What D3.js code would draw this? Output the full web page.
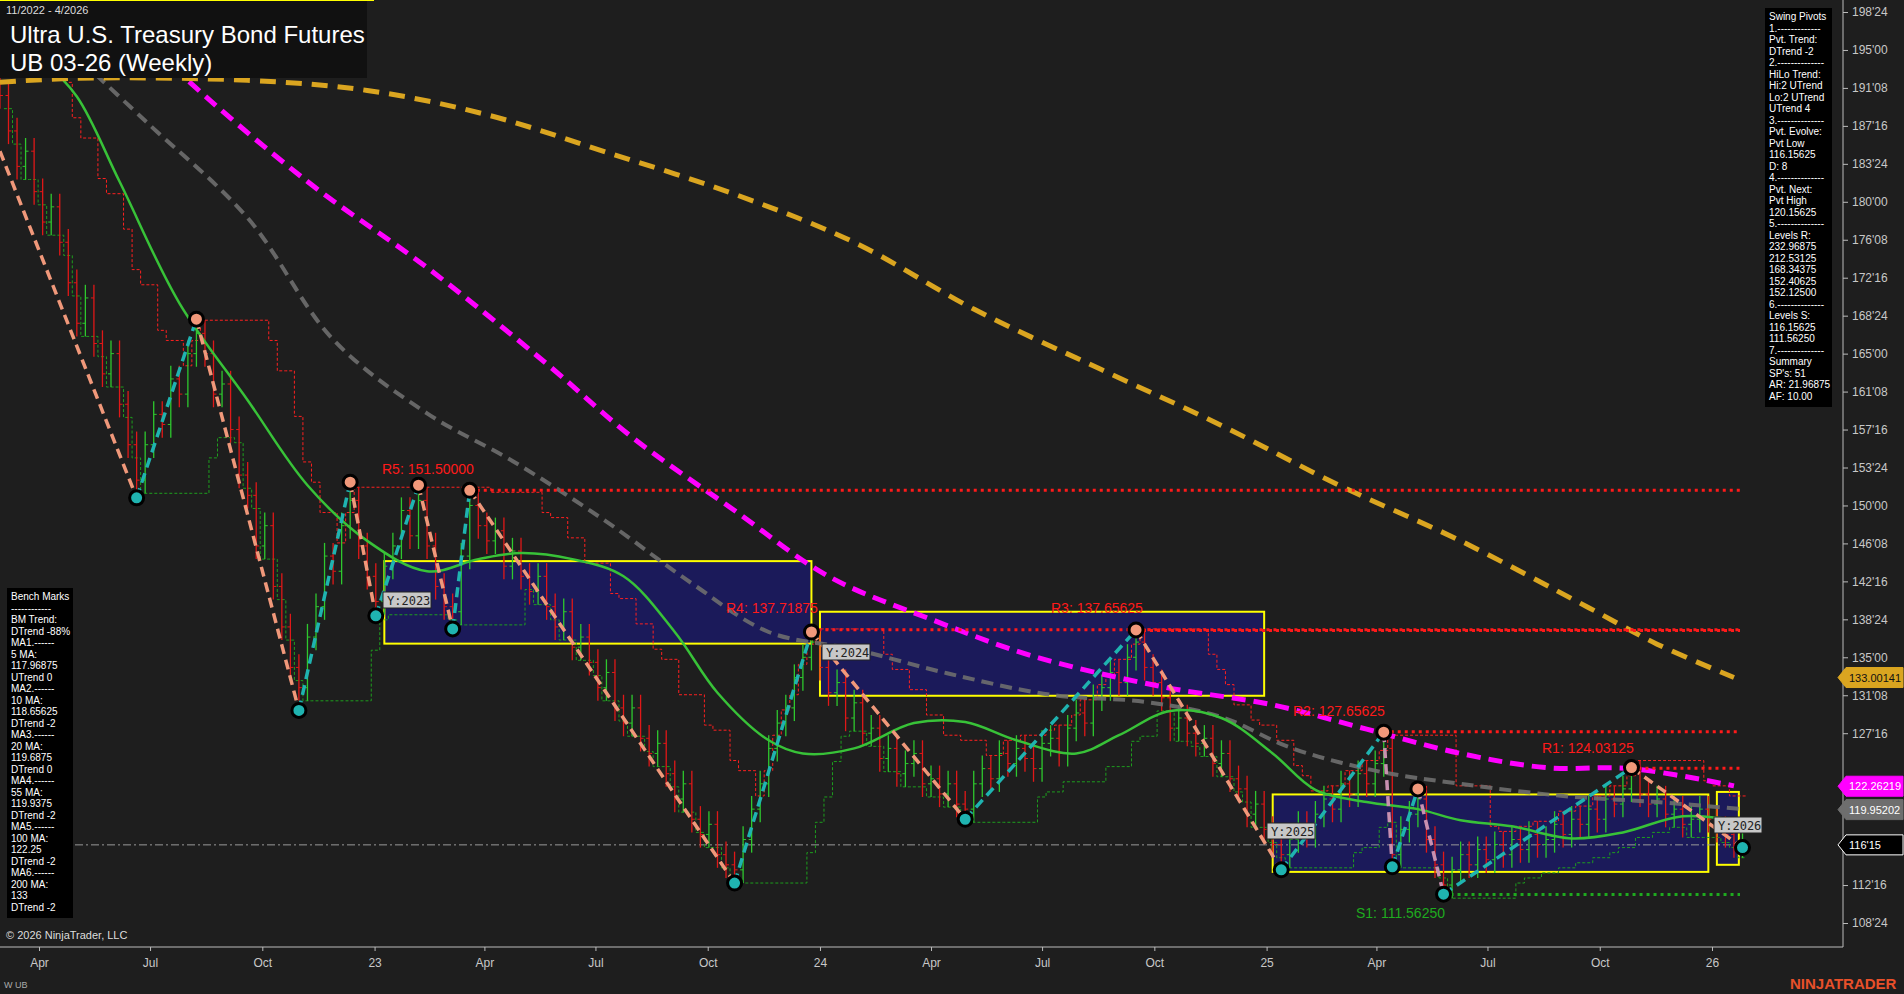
<!DOCTYPE html>
<html><head><meta charset="utf-8">
<script src="https://cdn.jsdelivr.net/npm/d3@7"></script>
<style>
body{margin:0;background:#1e1e1e;overflow:hidden}
svg{display:block;font-family:Arial,"Liberation Sans",sans-serif}
</style></head><body>
<svg id="chart" width="1904" height="994"></svg>
<script>
// weekly closes, first week 2022-02-28
const closes = [190.5,187,183.5,185,181,178,179.5,176,172,168,170.5,166,163,165,160,156,152.5,
156,159,158,162.5,161,165,167,
165,161,162,157.5,153,151,146,148,142,138,134,132,
137,140,145,143.5,148,150.5,146,143,140.5,144,146,149.5,147,150.5,146,142,140,139.5,145,150,
148,146.5,147.5,144,145.5,143,141.5,143,140,138,139.5,136,137,134.5,132,133.5,130,128.5,130,127,125.5,126.5,123.5,121,122.5,119,117.5,118.5,115.5,114.5,114,
117,120,122.5,126,128.5,130,133,135,136.5,
134,131.5,132.5,129,130.5,127.5,128,125,126,123.5,124.5,125.5,122.5,123,121.5,122.5,120.5,120,
122.5,124,123,125.5,124.5,126,125,124,126.5,127,125.5,128,129.5,128.5,131,132,133.5,132.5,135,136.5,
134,132.5,131,128,129,127.5,126.5,127,124.5,125.5,123,122,119.5,120.5,118,116.5,115.5,
117,118.5,117.5,119.5,121,120,122.5,121.5,123.5,122.5,124.5,126,
115.5,118,119.5,121,117,114.5,112.5,
114,115.5,114.5,116,115,116.5,115.5,117,116,117.5,116.5,117,118.5,117.5,119,118.5,120,119,121,120.5,122,123.5,
121.5,120.5,121,119.5,120,118.5,119,120,119,118,117.5,116.5,116.5];

// swing pivots: week index, price, type
const pivotIdx = [16,23,35,41,44,49,53,55,86,95,113,133,150,162,163,166,169,191,204];
const pivotPx  = [150.75,168.4,129.75,152.3,139.1,152,137.8,151.5,112.7,137.5,119,137.7,114,127.6,114.3,122,111.6,124.1,116.2];
const pivotHi  = [0,1,0,1,0,1,0,1,0,1,0,1,0,1,0,1,0,1,0];

// moving averages: [week index, price]
const ma20  = [[5,194],[9,190.4],[14,182],[21,170],[29,160.4],[36,152],[43,146.5],[50,143.5],[56,144.7],[61,145.3],[67,144.7],[73,143],[79,137.5],[84,131.5],[90,126.8],[94,125.5],[100,126],[107,128.5],[113,128.6],[119,126.8],[126,125.5],[131,127.3],[137,129.7],[143,129],[149,125.5],[154,121.9],[160,120.7],[166,120],[171,118.9],[177,118.3],[184,117.1],[190,117.7],[197,119.3],[204,118.8]];
const ma55  = [[8,195.1],[17,188],[29,178.4],[39,166.4],[50,159.1],[60,154.4],[71,148.4],[81,142.3],[90,137.5],[100,135.8],[111,133.4],[123,131.3],[134,130.6],[143,129.1],[151,126.1],[161,123.8],[171,122.5],[183,121.3],[194,120.7],[204,120]];
const ma100 = [[13,199.5],[21,192.75],[36,182],[50,173.5],[64,164],[74,156.75],[86,149.5],[97,143],[109,138.75],[121,135.1],[136,132.1],[149,130.3],[160,127.9],[171,125.5],[181,124.1],[191,124],[203,122.3]];
const ma200 = [[0,191.8],[9,192.2],[29,192],[43,191],[57,188.6],[71,184.9],[86,180.75],[100,176],[114,169.4],[129,163.4],[143,157.9],[157,151.9],[171,146.5],[186,139.9],[194,136.3],[203,133]];

// levels
const levelNames = ["R5: 151.50000","R4: 137.71875","R3: 137.65625","R2: 127.65625","R1: 124.03125","S1: 111.56250"];
const levelPx    = [151.5,137.71875,137.65625,127.65625,124.03125,111.5625];
const levelFrom  = [55,95,133,162,191,169];

// yearly range boxes
const yearNames = ["Y:2023","Y:2024","Y:2025","Y:2026"];
const yearFrom  = [45,96,149,201];
const yearTo    = [95,148,200,203.5];
const yearHi    = [144.5,139.5,121.45,121.7];
const yearLo    = [136.35,131.2,113.8,114.5];

const lastPrice = 116.46875;

const swingLines = ["Swing Pivots","1.-------------","Pvt. Trend:","DTrend -2","2.--------------","HiLo Trend:","Hi:2 UTrend","Lo:2 UTrend","UTrend 4","3.--------------","Pvt. Evolve:","Pvt Low","116.15625","D: 8","4.--------------","Pvt. Next:","Pvt High","120.15625","5.--------------","Levels R:","232.96875","212.53125","168.34375","152.40625","152.12500","6.--------------","Levels S:","116.15625","111.56250","7.--------------","Summary","SP's: 51","AR: 21.96875","AF: 10.00"];
const benchLines = ["Bench Marks","------------","BM Trend:","DTrend -88%","MA1.------","5 MA:","117.96875","UTrend 0","MA2.------","10 MA:","118.65625","DTrend -2","MA3.------","20 MA:","119.6875","DTrend 0","MA4.------","55 MA:","119.9375","DTrend -2","MA5.------","100 MA:","122.25","DTrend -2","MA6.------","200 MA:","133","DTrend -2"];

const svg = d3.select("#chart");
const start = new Date(2022,1,28);
const dateOf = i => d3.timeDay.offset(start, Math.round(i*7));
const x = d3.scaleTime().domain([new Date(2022,3,1), new Date(2026,0,1)]).range([39,1712]);
const xi = i => x(dateOf(i));
const y = d3.scaleLinear().domain([108.75,198.75]).range([923,12]);

const plot = svg.append("g");
plot.append("rect").attr("x",0).attr("y",0).attr("width",1843).attr("height",947).attr("fill","#1e1e1e");

// year boxes
yearNames.forEach((n,k)=>{
  plot.append("rect").attr("x",xi(yearFrom[k])).attr("y",y(yearHi[k]))
    .attr("width",xi(yearTo[k])-xi(yearFrom[k])).attr("height",y(yearLo[k])-y(yearHi[k]))
    .attr("fill","#1b1a5a").attr("stroke","#ffff00").attr("stroke-width",2);
});

// last price dash-dot line
plot.append("line").attr("x1",75).attr("x2",1745).attr("y1",y(lastPrice)).attr("y2",y(lastPrice))
  .attr("stroke","#9a9a9a").attr("stroke-width",1).attr("stroke-dasharray","8,3,2,3");

// bars
const bars = closes.map((c,i)=>{
  const o = i? closes[i-1] : c+1;
  return {i, o, c, h:Math.max(o,c)+1.3, l:Math.min(o,c)-1.3};
});
// trailing stops (step lines) from recent highs / lows
const stop = bars.map((b,i)=>({i, v:d3.max(bars.slice(Math.max(0,i-6),i+1),d=>d.h)}));
plot.append("path").datum(stop).attr("fill","none").attr("stroke","#ff2020").attr("stroke-width",1)
  .attr("stroke-dasharray","3,2")
  .attr("d",d3.line().curve(d3.curveStepAfter).x(d=>xi(d.i)+4).y(d=>y(d.v)));
const lowStop = bars.map((b,i)=>({i, v:d3.min(bars.slice(Math.max(0,i-6),i+1),d=>d.l)}));
plot.append("path").datum(lowStop).attr("fill","none").attr("stroke","#1e9e1e").attr("stroke-width",1)
  .attr("stroke-dasharray","3,2")
  .attr("d",d3.line().curve(d3.curveStepAfter).x(d=>xi(d.i)+4).y(d=>y(d.v)));

const bg = plot.append("g");
bars.forEach(b=>{
  const col = b.c>=b.o ? "#2ec82e" : "#e01818";
  const cx = xi(b.i);
  bg.append("line").attr("x1",cx).attr("x2",cx).attr("y1",y(b.h)).attr("y2",y(b.l)).attr("stroke",col).attr("stroke-width",1.3);
  bg.append("line").attr("x1",cx-3).attr("x2",cx).attr("y1",y(b.o)).attr("y2",y(b.o)).attr("stroke",col);
  bg.append("line").attr("x1",cx).attr("x2",cx+3).attr("y1",y(b.c)).attr("y2",y(b.c)).attr("stroke",col);
});

// moving averages
const maLine = d3.line().curve(d3.curveCatmullRom).x(d=>xi(d[0])).y(d=>y(d[1]));
plot.append("path").datum(ma55).attr("d",maLine).attr("fill","none").attr("stroke","#6e6e6e").attr("stroke-width",4).attr("stroke-dasharray","12,7").attr("opacity",0.9);
plot.append("path").datum(ma20).attr("d",maLine).attr("fill","none").attr("stroke","#38c238").attr("stroke-width",2.5);
plot.append("path").datum(ma100).attr("d",maLine).attr("fill","none").attr("stroke","#ff00ff").attr("stroke-width",5).attr("stroke-dasharray","14,8");
plot.append("path").datum(ma200).attr("d",maLine).attr("fill","none").attr("stroke","#daa520").attr("stroke-width",5).attr("stroke-dasharray","16,10");

// levels
levelPx.forEach((p,k)=>{
  const sup = levelNames[k][0]==="S";
  const col = sup ? "#1faa1f" : "#ff1a1a";
  plot.append("line").attr("x1",xi(levelFrom[k])).attr("x2",1740).attr("y1",y(p)).attr("y2",y(p))
    .attr("stroke",col).attr("stroke-width",3).attr("stroke-dasharray","3,4");
});
const labelAt = [[382,474],[726,613],[1051,613],[1293,716],[1542,753],[1356,918]];
levelNames.forEach((n,k)=>{
  plot.append("text").attr("x",labelAt[k][0]).attr("y",labelAt[k][1]).text(n)
    .attr("fill", n[0]==="S" ? "#1faa1f" : "#ff1a1a").attr("font-size",14);
});

// swing lines
const startPt = {i:0, p:185};
const pts = [startPt].concat(pivotIdx.map((d,k)=>({i:d,p:pivotPx[k],hi:pivotHi[k]})));
for(let k=1;k<pts.length;k++){
  const a=pts[k-1], b=pts[k];
  const col = b.p>a.p ? "#1fb3b0" : (b.i>=160 && b.i<=170 ? "#c890b0" : "#f0987a");
  plot.append("line").attr("x1",xi(a.i)).attr("y1",y(a.p)).attr("x2",xi(b.i)).attr("y2",y(b.p))
    .attr("stroke",col).attr("stroke-width",3.5).attr("stroke-dasharray","10,6");
}
pts.slice(1).forEach(d=>{
  plot.append("circle").attr("cx",xi(d.i)).attr("cy",y(d.p)).attr("r",7)
    .attr("fill",d.hi?"#f0987a":"#1fb3b0").attr("stroke","#000").attr("stroke-width",3);
});

// year tags
const tagPos = [[383,601],[822,653],[1267,832],[1714,826]];
yearNames.forEach((n,k)=>{
  const g = plot.append("g").attr("transform",`translate(${tagPos[k][0]},${tagPos[k][1]})`);
  g.append("rect").attr("x",0).attr("y",-9).attr("width",48).attr("height",16).attr("fill","#c8c8c8").attr("stroke","#222");
  g.append("text").attr("x",4).attr("y",4).text(n).attr("fill","#222").attr("font-size",12).attr("font-family","DejaVu Sans Mono,monospace");
});

// price badges (drawn before axis test so ticks under them are hidden)
const badges = [[133.00141,"133.00141","#daa520","#111"],[122.26219,"122.26219","#ff00ff","#fff"],
                [119.95202,"119.95202","#6e6e6e","#fff"],[lastPrice,"116'15","#000","#fff","#fff"]];

// y axis
const ticks = d3.range(108.75,199,3.75);
const fmt = v => { const w=Math.floor(v+1e-9); const t=Math.round((v-w)*32); return w+"'"+String(t).padStart(2,"0"); };
svg.append("line").attr("x1",1843).attr("x2",1843).attr("y1",0).attr("y2",947).attr("stroke","#bbb");
const ax = svg.append("g").attr("transform","translate(1843,0)")
  .call(d3.axisRight(y).tickValues(ticks.filter(t=>badges.every(b=>Math.abs(y(t)-y(b[0]))>16))).tickFormat(fmt).tickSize(5));
ax.select(".domain").remove();
ax.selectAll("line").attr("stroke","#bbb");
ax.selectAll("text").attr("fill","#c8c8c8").attr("font-size",12).attr("x",9);

badges.forEach(([p,text,fill,tc,stroke])=>{
  const g=svg.append("g").attr("transform",`translate(1838,${y(p)})`);
  g.append("path").attr("d","M0,0 L8,-10 L65,-10 L65,10 L8,10 Z").attr("fill",fill).attr("stroke",stroke||fill);
  g.append("text").attr("x",11).attr("y",4).text(text).attr("fill",tc).attr("font-size",11);
});

// x axis
svg.append("line").attr("x1",0).attr("x2",1843).attr("y1",947).attr("y2",947).attr("stroke","#bbb");
const xt = d3.timeMonth.every(3).range(new Date(2022,3,1), new Date(2026,1,1));
const xa = svg.append("g").attr("transform","translate(0,947)")
  .call(d3.axisBottom(x).tickValues(xt).tickSize(4)
    .tickFormat(d=> d.getMonth()===0 ? d3.timeFormat("%y")(d) : d3.timeFormat("%b")(d)));
xa.select(".domain").remove();
xa.selectAll("line").attr("stroke","#bbb");
xa.selectAll("text").attr("fill","#c8c8c8").attr("font-size",12).attr("dy","1.1em");

// title
svg.append("rect").attr("x",0).attr("y",0).attr("width",367).attr("height",78).attr("fill","#111");
svg.append("line").attr("x1",0).attr("x2",374).attr("y1",0.5).attr("y2",0.5).attr("stroke","#ffff00");
svg.append("text").attr("x",6).attr("y",14).text("11/2022 - 4/2026").attr("fill","#ddd").attr("font-size",11);
svg.append("text").attr("x",10).attr("y",43).text("Ultra U.S. Treasury Bond Futures").attr("fill","#fff").attr("font-size",24);
svg.append("text").attr("x",10).attr("y",71).text("UB 03-26 (Weekly)").attr("fill","#fff").attr("font-size",24);

// info panels
function panel(x0,y0,w,lines){
  svg.append("rect").attr("x",x0).attr("y",y0).attr("width",w).attr("height",lines.length*11.5+8).attr("fill","#000");
  svg.append("g").selectAll("text").data(lines).join("text")
    .attr("x",x0+4).attr("y",(d,i)=>y0+12+i*11.5).text(d=>d).attr("fill","#fff").attr("font-size",10);
}
panel(1765,8,67,swingLines);
panel(7,588,66,benchLines);

svg.append("text").attr("x",6).attr("y",939).text("© 2026 NinjaTrader, LLC").attr("fill","#ddd").attr("font-size",11);
svg.append("text").attr("x",4).attr("y",988).text("W UB").attr("fill","#aaa").attr("font-size",9);
svg.append("text").attr("x",1790).attr("y",989).text("NINJATRADER").attr("fill","#e8502a").attr("font-size",15).attr("font-weight","bold");
</script>
</body></html>
